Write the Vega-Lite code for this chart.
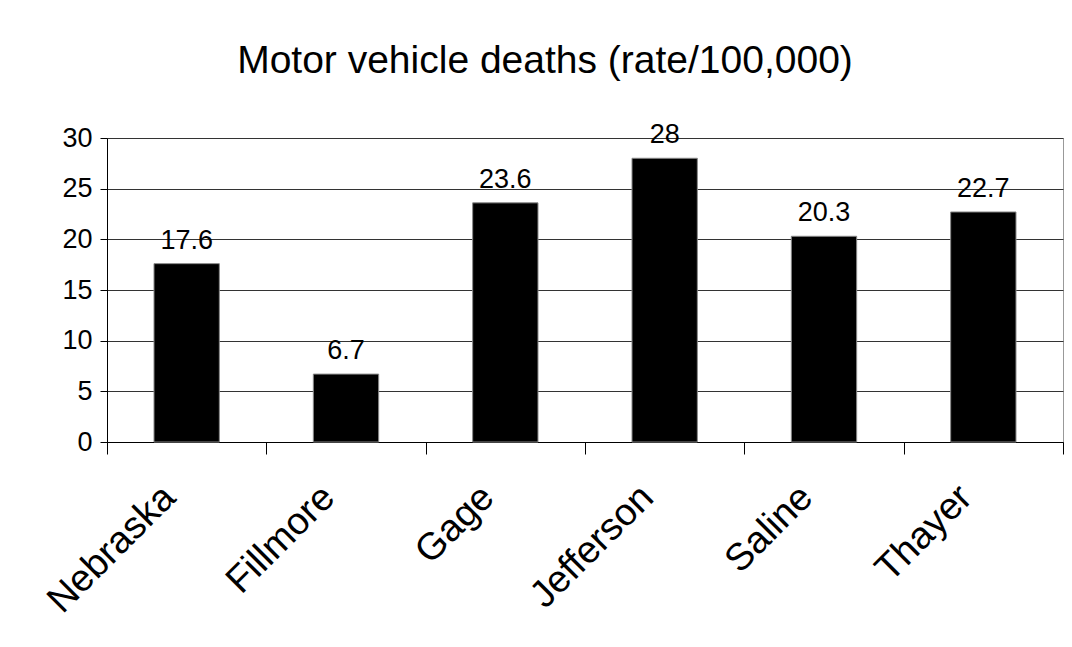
{
  "$schema": "https://vega.github.io/schema/vega-lite/v6.json",
  "width": 956,
  "height": 304,
  "autosize": {"type": "none"},
  "padding": {"left": 107, "top": 138, "right": 9, "bottom": 205},
  "background": "white",
  "title": {
    "text": "Motor vehicle deaths (rate/100,000)",
    "font": "Liberation Sans",
    "fontSize": 39,
    "fontWeight": "normal",
    "color": "black",
    "anchor": "middle",
    "dx": -40,
    "offset": 40
  },
  "data": {
    "values": [
      {"county": "Nebraska", "rate": 17.6},
      {"county": "Fillmore", "rate": 6.7},
      {"county": "Gage", "rate": 23.6},
      {"county": "Jefferson", "rate": 28},
      {"county": "Saline", "rate": 20.3},
      {"county": "Thayer", "rate": 22.7}
    ]
  },
  "encoding": {
    "x": {
      "field": "county",
      "type": "nominal",
      "sort": null,
      "scale": {"paddingInner": 0, "paddingOuter": 0},
      "axis": {
        "title": null,
        "labelAngle": -45,
        "labelAlign": "right",
        "labelBaseline": "top",
        "labelFont": "Liberation Sans",
        "labelFontSize": 38,
        "labelColor": "black",
        "labelPadding": 24,
        "labelOffset": -31,
        "tickBand": "extent",
        "tickSize": 12,
        "tickColor": "black",
        "domainColor": "black",
        "grid": false
      }
    },
    "y": {
      "field": "rate",
      "type": "quantitative",
      "scale": {"domain": [0, 30], "nice": false},
      "axis": {
        "title": null,
        "values": [0, 5, 10, 15, 20, 25, 30],
        "labelFont": "Liberation Sans",
        "labelFontSize": 27,
        "labelColor": "black",
        "labelPadding": 8,
        "tickSize": 7,
        "tickColor": "black",
        "domainColor": "black",
        "gridColor": "#333333",
        "grid": true
      }
    }
  },
  "layer": [
    {
      "mark": {"type": "bar", "color": "black", "width": {"band": 0.41}, "stroke": "#888888", "strokeWidth": 1}
    },
    {
      "mark": {"type": "text", "font": "Liberation Sans", "fontSize": 27, "color": "black", "baseline": "alphabetic", "dy": -15},
      "encoding": {"text": {"field": "rate", "type": "quantitative"}}
    }
  ],
  "config": {
    "view": {"stroke": "#999999", "strokeWidth": 1}
  }
}
